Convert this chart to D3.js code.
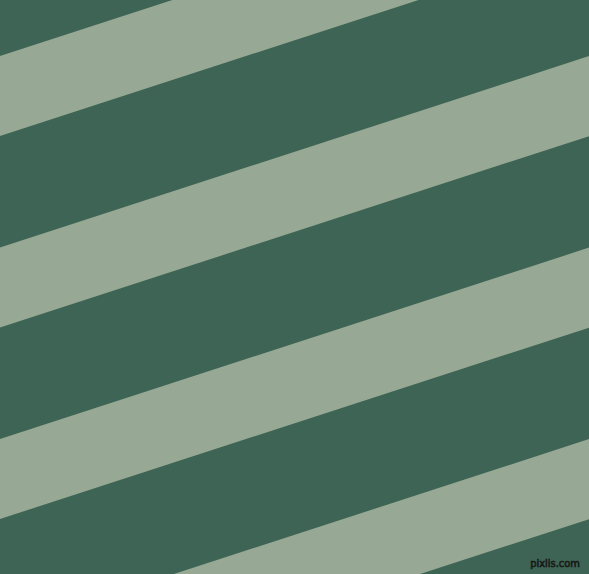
<!DOCTYPE html>
<html>
<head>
<meta charset="utf-8">
<script src="https://cdn.jsdelivr.net/npm/d3@7"></script>
<style>
  html, body { margin: 0; padding: 0; background: #3e6455; }
  svg { display: block; }
</style>
</head>
<body>
<script>
var width = 589,
    height = 574;

// stripe pattern data
var stripeIndex = [-1, 0, 1, 2, 3];
var stripeColors = ["#3e6455", "#97a994"];
var angle = 18;
var watermark = ["pixlis.com"];

var svg = d3.select("body").append("svg")
    .attr("width", width)
    .attr("height", height);

var rad = angle * Math.PI / 180;

// index -> y where the light band crosses the left edge
var offset = d3.scaleLinear()
    .domain([0, 1])
    .range([56, 247.5]);

svg.append("rect")
    .attr("width", width)
    .attr("height", height)
    .attr("fill", stripeColors[0]);

var g = svg.append("g")
    .attr("transform", "rotate(" + (-angle) + ")");

g.selectAll(".band")
    .data(stripeIndex)
    .enter().append("rect")
    .attr("class", "band")
    .attr("x", -600)
    .attr("width", 1800)
    .attr("y", function (d) { return offset(d) * Math.cos(rad); })
    .attr("height", (offset(0.4178) - offset(0)) * Math.cos(rad))
    .attr("fill", stripeColors[1]);

svg.selectAll(".mark")
    .data(watermark)
    .enter().append("text")
    .attr("class", "mark")
    .attr("x", 580)
    .attr("y", 567)
    .attr("text-anchor", "end")
    .attr("font-family", "DejaVu Sans Condensed, DejaVu Sans, sans-serif")
    .attr("font-size", 11)
    .attr("fill", "#2b2f2c")
    .attr("stroke", "#141614")
    .attr("stroke-width", 0.6)
    .text(function (d) { return d; });
</script>
</body>
</html>
